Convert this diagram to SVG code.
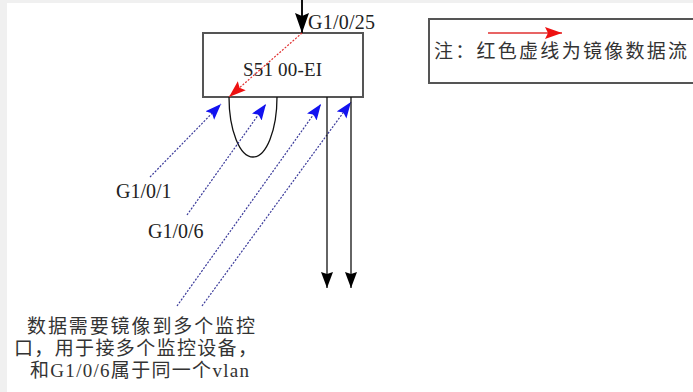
<svg xmlns="http://www.w3.org/2000/svg" width="693" height="392" viewBox="0 0 693 392">
<style>
.lbl{font-family:"Liberation Serif","Times New Roman",serif;font-size:20px;fill:#222}
.cjk{font-family:"Liberation Serif","Noto Sans CJK SC",serif;font-size:19px;fill:#333}
.box{fill:#fff;stroke:#555;stroke-width:2}
.blue{fill:none;stroke:#3a3a9a;stroke-width:1.2;stroke-dasharray:2 1.5}
.red{fill:none;stroke:#e03030;stroke-width:1.2;stroke-dasharray:2 1.5}
.blk{fill:none;stroke:#111;stroke-width:1.3}
</style>
<defs>
<marker id="mb" markerUnits="userSpaceOnUse" markerWidth="18" markerHeight="14" refX="16" refY="6" orient="auto"><path d="M0,0 L16,6 L0,12 L3,6 Z" fill="#1212f0"/></marker>
<marker id="mr" markerUnits="userSpaceOnUse" markerWidth="18" markerHeight="14" refX="17" refY="6" orient="auto"><path d="M0,0 L17,6 L0,12 L3,6 Z" fill="#ee1111"/></marker>
<marker id="mk" markerUnits="userSpaceOnUse" markerWidth="18" markerHeight="14" refX="16" refY="6" orient="auto"><path d="M0,0 L16,6 L0,12 L2,6 Z" fill="#000"/></marker>
<marker id="mt" markerUnits="userSpaceOnUse" markerWidth="22" markerHeight="16" refX="20" refY="7" orient="auto"><path d="M0,0 L20,7 L0,14 L3,7 Z" fill="#000"/></marker>
</defs>
<rect x="0" y="0" width="693" height="392" fill="#fff"/>
<rect x="0" y="0" width="693" height="3" fill="#f0f0f0"/>
<rect x="0" y="0" width="7" height="392" fill="#f0f0f0"/>
<g id="legend">
<rect class="box" x="429" y="19" width="270" height="64"/>
<line class="blk" x1="488" y1="33" x2="562" y2="33" style="stroke:#e03030" marker-end="url(#mr)"/>
<text class="cjk" x="434" y="58" textLength="253" lengthAdjust="spacing">注：红色虚线为镜像数据流</text>
</g>
<g id="switch">
<rect class="box" x="203" y="33" width="160" height="64"/>
<text class="lbl" x="243" y="76" style="font-size:19px" textLength="79" lengthAdjust="spacing">S51 00-EI</text>
</g>
<g id="connectors">
<line class="blk" x1="302" y1="0" x2="302" y2="33" marker-end="url(#mt)" style="stroke-width:2"/>
<line class="red" x1="302" y1="33" x2="229" y2="97" marker-end="url(#mr)"/>
<path class="blk" d="M229,97 A24,60 0 0 0 277,97"/>
<line class="blue" x1="150" y1="177" x2="221" y2="104" marker-end="url(#mb)"/>
<line class="blue" x1="187" y1="215" x2="266" y2="104" marker-end="url(#mb)"/>
<line class="blue" x1="177" y1="306" x2="321" y2="104" marker-end="url(#mb)"/>
<line class="blue" x1="202" y1="306" x2="351" y2="102" marker-end="url(#mb)"/>
<line class="blk" x1="327" y1="97" x2="327" y2="288" marker-end="url(#mk)"/>
<line class="blk" x1="351" y1="97" x2="351" y2="288" marker-end="url(#mk)"/>
</g>
<g id="labels">
<text class="lbl" x="308" y="29" textLength="67" lengthAdjust="spacing">G1/0/25</text>
<text class="lbl" x="116" y="198">G1/0/1</text>
<text class="lbl" x="148" y="238">G1/0/6</text>
</g>
<g id="note">
<text class="cjk" x="27" y="333" textLength="228" lengthAdjust="spacing">数据需要镜像到多个监控</text>
<text class="cjk" x="14" y="355" textLength="243" lengthAdjust="spacing">口，用于接多个监控设备，</text>
<text class="cjk" x="30" y="377" textLength="219" lengthAdjust="spacing">和G1/0/6属于同一个vlan</text>
</g>
</svg>
